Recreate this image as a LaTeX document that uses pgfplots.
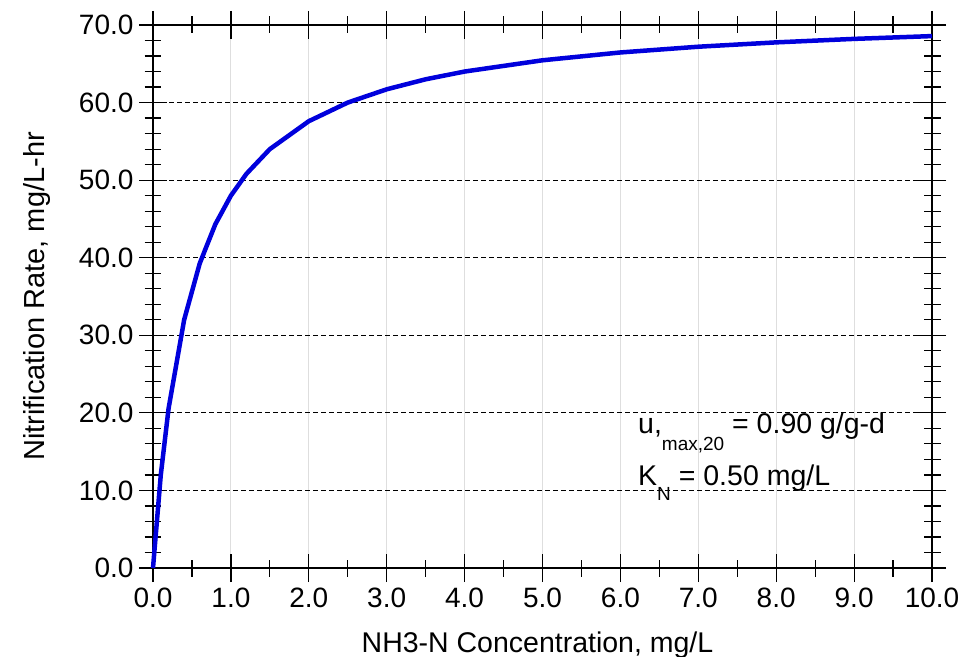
\documentclass[border=0pt]{standalone}
\usepackage{pgfplots}
\pgfplotsset{compat=1.18}
\usepackage{fontspec}
\setmainfont{Liberation Sans}
\definecolor{curveblue}{RGB}{0,0,220}
\begin{document}
\begin{tikzpicture}[x=1pt,y=1pt]
\useasboundingbox (0,0) rectangle (979,656);
\begin{axis}[
  at={(153pt,88pt)}, anchor=south west,
  scale only axis, width=779pt, height=543pt,
  xmin=0, xmax=10, ymin=0, ymax=70,
  xtick={0,1,2,3,4,5,6,7,8,9,10},
  ytick={0,10,20,30,40,50,60,70},
  minor x tick num=1, minor y tick num=4,
  tick align=center,
  major tick length=28pt, minor tick length=17pt,
  every tick/.style={black, line width=1.2pt},
  axis line style={line width=1.3pt},
  xmajorgrids, ymajorgrids,
  x grid style={black!13, line width=1pt},
  y grid style={black, dash pattern=on 5pt off 3pt, line width=1pt},
  tick label style={font=\fontsize{28}{30}\selectfont},
  xticklabel style={yshift=-2pt},
  yticklabel style={xshift=-2pt},
  /pgf/number format/.cd, fixed, fixed zerofill, precision=1, assume math mode=true, /pgfplots/.cd,
  xlabel={NH3-N Concentration, mg/L},
  ylabel={Nitrification Rate, mg/L-hr},
  xlabel style={font=\fontsize{28.5}{30}\selectfont, at={([xshift=-5pt,yshift=-84pt]axis description cs:0.5,0)}, anchor=base},
  ylabel style={font=\fontsize{29}{31}\selectfont, at={([xshift=-108pt]axis description cs:0,0.5)}, anchor=base, rotate=0},
  clip=false,
]
\addplot[curveblue, line width=4.5pt, line join=round] coordinates {
(0.0,0.00) (0.1,12.00) (0.2,20.57) (0.4,32.00) (0.6,39.27) (0.8,44.31)
(1.0,48.00) (1.2,50.82) (1.5,54.00) (2.0,57.60) (2.5,60.00) (3.0,61.71)
(3.5,63.00) (4.0,64.00) (5.0,65.45) (6.0,66.46) (7.0,67.20) (8.0,67.76)
(9.0,68.21) (10.0,68.57)
};
\node[anchor=base west, inner sep=0pt, font=\fontsize{28.5}{30}\selectfont] at (axis cs:6.226,17.40)
  {u,\raisebox{-17pt}{\fontsize{19}{20}\selectfont max,20} = 0.90 g/g-d};
\node[anchor=base west, inner sep=0pt, font=\fontsize{28.5}{30}\selectfont] at (axis cs:6.226,10.70)
  {K\raisebox{-15pt}{\fontsize{19}{20}\selectfont N} = 0.50 mg/L};
\end{axis}
\end{tikzpicture}
\end{document}
